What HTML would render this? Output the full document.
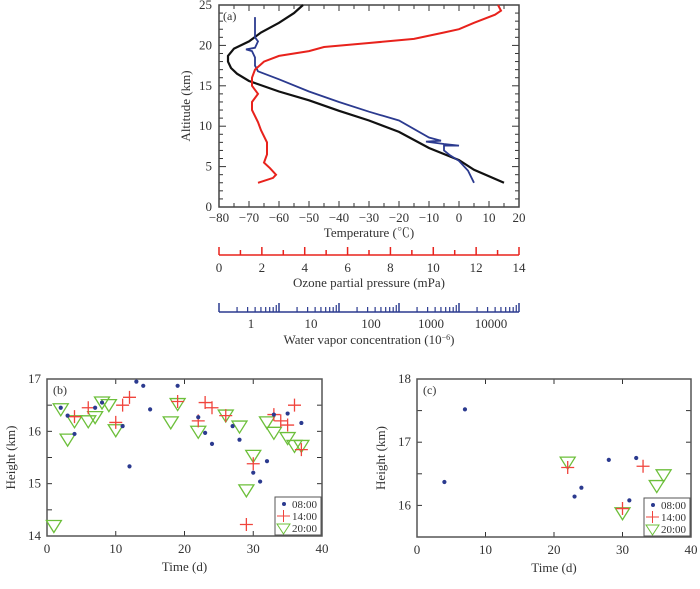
<!DOCTYPE html>
<html><head><meta charset="utf-8"><style>
body{margin:0;background:#fff}
svg text{font-family:"Liberation Serif","Noto Serif CJK SC",serif;fill:#333}
</style></head><body>
<svg id="s" width="700" height="584" viewBox="0 0 700 584"></svg>
<script>
// ---- data ----
const tempT=[15,5,0,-10,-20,-30,-40,-50,-60,-70,-74,-76,-77,-77,-75,-70,-66,-60,-55,-52];
const tempH=[3,4.6,5.8,7.3,9.3,10.7,11.9,13.2,14.3,15.6,16.5,17.2,18,18.7,19.6,20.5,21.6,22.8,24,25];
const dewT=[5,3,0,-3,-5,-5,0,-5,-11,-6,-10,-20,-30,-40,-50,-60,-67,-68,-68,-69,-71,-68,-67,-68,-68];
const dewH=[3,4.5,5.7,6.4,7,7.6,7.6,7.8,8.1,8.2,8.6,10.7,11.8,13,14.3,15.8,16.8,17.5,18.5,19.3,19.5,19.7,20.5,21,23.5];
const ozoneP=[1.82,2.52,2.66,2.38,2.1,2.24,2.24,2.24,1.96,1.82,1.54,1.54,1.82,1.54,1.54,1.68,2.1,2.8,4.2,4.9,7.0,9.1,10.5,11.2,11.9,12.88,13.16,13.02];
const ozoneH=[3,3.6,4,4.8,5.5,6.5,7.5,8,9.5,10.5,12,13,14,15,16,17,18,18.7,19.3,19.8,20.3,20.8,21.6,22,22.8,23.8,24.3,25];
const bDotX=[2,3,4,7,8,11,12,13,14,15,19,22,23,24,27,28,30,31,32,33,35,37];
const bDotY=[16.45,16.3,15.95,16.45,16.55,16.1,15.33,16.95,16.87,16.42,16.87,16.27,15.97,15.76,16.1,15.84,15.21,15.04,15.43,16.32,16.34,16.16];
const bPlusX=[4,6,10,11,12,19,22,23,24,26,29,30,33,34,35,36,37];
const bPlusY=[16.28,16.45,16.17,16.5,16.65,16.57,16.2,16.55,16.45,16.3,14.22,15.38,16.32,16.2,16.12,16.5,15.65];
const bTriX=[1,2,3,4,6,7,8,9,10,18,19,22,26,28,29,30,32,33,35,36,37];
const bTriY=[14.22,16.45,15.87,16.22,16.22,16.3,16.58,16.53,16.05,16.2,16.55,16.02,16.33,16.12,14.9,15.56,16.2,16.0,15.9,15.75,15.75];
const cDotX=[4,7,23,24,28,31,32];
const cDotY=[16.37,17.52,16.14,16.28,16.72,16.08,16.75];
const cPlusX=[22,30,33];
const cPlusY=[16.6,15.95,16.62];
const cTriX=[22,30,35,36];
const cTriY=[16.7,15.9,16.33,16.5];
const tTicks=[-80,-70,-60,-50,-40,-30,-20,-10,0,10,20];
const aTicks=[0,5,10,15,20,25];
const oTicks=[0,2,4,6,8,10,12,14];
const wLabels=["1","10","100","1000","10000"];

const S=document.getElementById('s');const NS='http://www.w3.org/2000/svg';
function el(t,a,p){const e=document.createElementNS(NS,t);for(const k in a)e.setAttribute(k,a[k]);(p||S).appendChild(e);return e;}
function txt(x,y,s,o){const e=el('text',Object.assign({x:x,y:y,'font-size':13,'text-anchor':'middle'},o||{}));e.textContent=s;return e;}
function lin(a,b,c,d){return v=>c+(v-a)*(d-c)/(b-a);}

// ---- panel a ----
const ax=lin(-80,20,219,519), ay=lin(0,25,207,5), ox=lin(0,14,219,519);
const ga=el('g',{});
tTicks.forEach((t,i)=>{const x=ax(t);el('line',{x1:x,x2:x,y1:207,y2:201,stroke:'#333'},ga);el('line',{x1:x,x2:x,y1:5,y2:11,stroke:'#333'},ga);txt(x,222,t<0?'−'+(-t):''+t,{});
 if(i<tTicks.length-1){const xm=ax(t+5);el('line',{x1:xm,x2:xm,y1:207,y2:203,stroke:'#333'},ga);el('line',{x1:xm,x2:xm,y1:5,y2:9,stroke:'#333'},ga);}});
for(let h=0;h<=25;h++){const y=ay(h),l=h%5==0?7:4;el('line',{x1:219,x2:219+l,y1:y,y2:y,stroke:'#333'},ga);el('line',{x1:519,x2:519-l,y1:y,y2:y,stroke:'#333'},ga);}
aTicks.forEach(h=>{const e=txt(212,ay(h)+4,''+h,{'text-anchor':'end'});});
el('rect',{x:219,y:5,width:300,height:202,fill:'none',stroke:'#444','stroke-width':1.5},ga);
function path(xs,ys,fx,fy,col,name,g,w){const d=xs.map((v,i)=>(i?'L':'M')+fx(v).toFixed(1)+','+fy(ys[i]).toFixed(1)).join('');const p=el('path',{d:d,fill:'none',stroke:col,'stroke-width':w},g);}
path(tempT,tempH,ax,ay,'#111','temperature-line',ga,2.2);
path(dewT,dewH,ax,ay,'#2b3a8f','water-vapor-line',ga,1.8);
path(ozoneP,ozoneH,ox,ay,'#e8221c','ozone-line',ga,2);
txt(223,20,'(a)',{'text-anchor':'start','font-size':12});
let yt=txt(0,0,'Altitude (km)',{transform:'translate(190,106) rotate(-90)'});
txt(369,237,'Temperature (℃)');
// ozone axis
el('line',{x1:219,x2:519,y1:255,y2:255,stroke:'#e8221c','stroke-width':1.5});
for(let o=0;o<=14;o++){const x=ox(o);el('line',{x1:x,x2:x,y1:255,y2:o%2?250:247,stroke:'#e8221c','stroke-width':1.5});}
oTicks.forEach(o=>txt(ox(o),272,''+o));
txt(369,287,'Ozone partial pressure (mPa)');
// water vapor axis
el('line',{x1:219,x2:519,y1:312,y2:312,stroke:'#2b3a8f','stroke-width':1.5});
for(let d=0;d<5;d++){const x0=219+d*60;el('line',{x1:x0,x2:x0,y1:312,y2:303,stroke:'#2b3a8f','stroke-width':1.5});
 for(let m=2;m<=9;m++){const x=x0+60*Math.log10(m);el('line',{x1:x,x2:x,y1:312,y2:m==9?305:307,stroke:'#2b3a8f',"stroke-width":1.2});}}
el('line',{x1:519,x2:519,y1:312,y2:303,stroke:'#2b3a8f','stroke-width':1.5});
wLabels.forEach((s,i)=>txt(251+i*60,328,s));
const wt=txt(369,344,'Water vapor concentration (10');const ts=el('tspan',{'baseline-shift':'super','font-size':8},wt);ts.textContent='−6';const t2=el('tspan',{},wt);t2.textContent=')';


// ---- scatter panels ----
function scatter(name,L,T,R,B,ymin,ymax,yticks,minor,lab,D,P,Tr){
 const g=el('g',{});
 const fx=lin(0,40,L,R),fy=lin(ymin,ymax,B,T);
 [0,10,20,30,40].forEach(v=>{const x=fx(v);el('line',{x1:x,x2:x,y1:B,y2:B-5,stroke:'#333'},g);el('line',{x1:x,x2:x,y1:T,y2:T+5,stroke:'#333'},g);txt(x,B+17,''+v);});
 minor.forEach(v=>{const y=fy(v);el('line',{x1:L,x2:L+5,y1:y,y2:y,stroke:'#333'},g);el('line',{x1:R,x2:R-5,y1:y,y2:y,stroke:'#333'},g);});
 yticks.forEach(v=>txt(L-6,fy(v)+4,''+v,{'text-anchor':'end'}));
 el('rect',{x:L,y:T,width:R-L,height:B-T,fill:'none',stroke:'#555','stroke-width':1.5},g);
 txt(L+6,T+15,lab,{'text-anchor':'start','font-size':12});
 txt(0,0,'Height (km)',{transform:`translate(${L-32},${(T+B)/2}) rotate(-90)`});
 txt((L+R)/2,B+35,'Time (d)');
 Tr[0].forEach((v,i)=>{const x=fx(v),y=fy(Tr[1][i]);const e=el('path',{d:`M${x-7.5},${y-4}L${x+7.5},${y-4}L${x},${y+8}Z`,fill:'none',stroke:'#6cbf3a','stroke-width':1.3},g);});
 P[0].forEach((v,i)=>{const x=fx(v),y=fy(P[1][i]);const e=el('path',{d:`M${x-6.5},${y}H${x+6.5}M${x},${y-6.5}V${y+6.5}`,stroke:'#f0443c','stroke-width':1.3},g);});
 D[0].forEach((v,i)=>{const e=el('circle',{cx:fx(v),cy:fy(D[1][i]),r:2.1,fill:'#2b3a8f'},g);});
 const lg=el('g',{},g);
 const lx=R-47,ly=B-39;el('rect',{x:lx,y:ly,width:46,height:38,fill:'#fff',stroke:'#555'},lg);
 el('circle',{cx:lx+9,cy:ly+7,r:2,fill:'#2b3a8f'},lg);txt(lx+17,ly+11,'08:00',{'text-anchor':'start','font-size':11});
 el('path',{d:`M${lx+2},${ly+19}H${lx+15}M${lx+8.5},${ly+13}V${ly+25}`,stroke:'#f0443c'},lg);txt(lx+17,ly+23,'14:00',{'text-anchor':'start','font-size':11});
 el('path',{d:`M${lx+2},${ly+27}L${lx+15},${ly+27}L${lx+8.5},${ly+37}Z`,fill:'none',stroke:'#6cbf3a'},lg);txt(lx+17,ly+35,'20:00',{'text-anchor':'start','font-size':11});
}
scatter('panel-b',47,379,322,536,14,17,[14,15,16,17],[14,14.5,15,15.5,16,16.5,17],'(b)',[bDotX,bDotY],[bPlusX,bPlusY],[bTriX,bTriY]);
scatter('panel-c',417,379,691,537,15.5,18,[16,17,18],[16,16.5,17,17.5,18],'(c)',[cDotX,cDotY],[cPlusX,cPlusY],[cTriX,cTriY]);
</script>
</body></html>
